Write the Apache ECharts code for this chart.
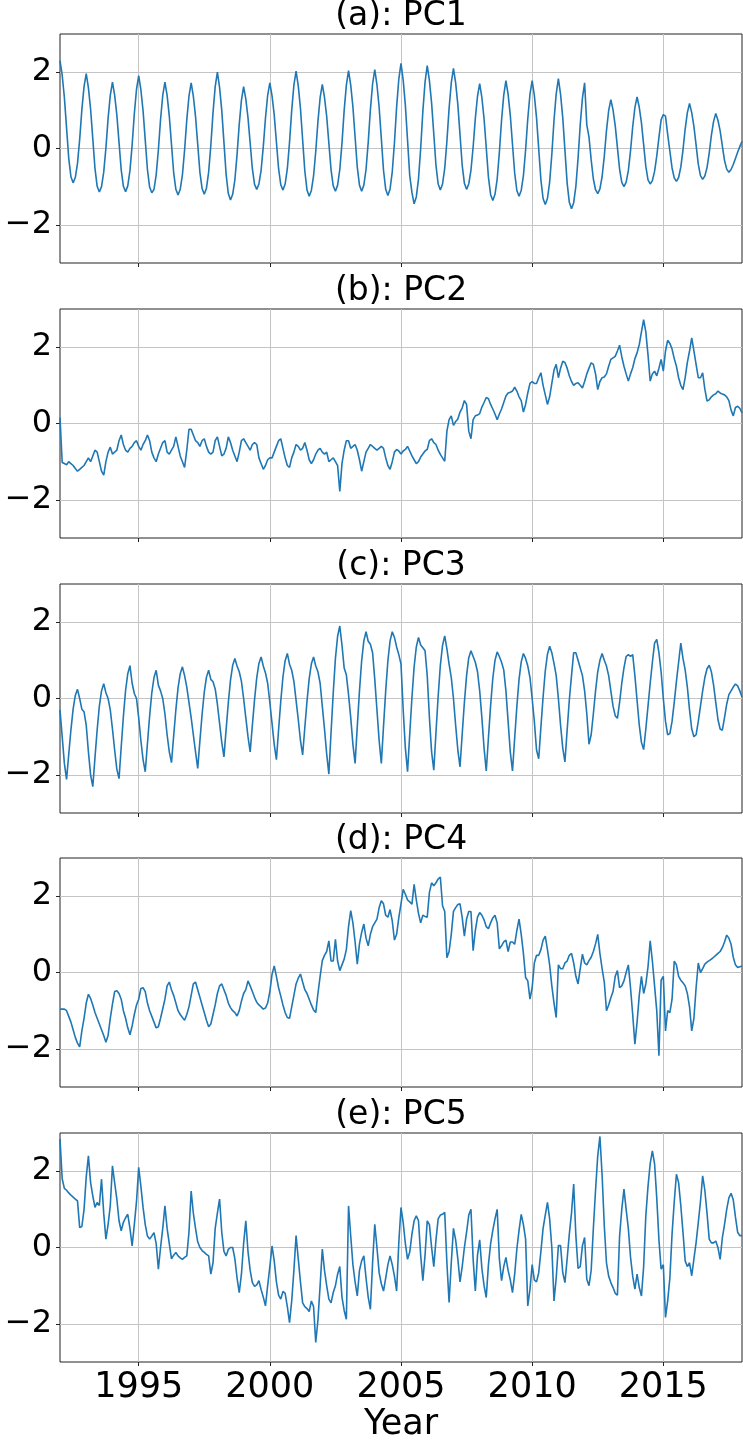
<!DOCTYPE html>
<html><head><meta charset="utf-8">
<script src="https://cdn.jsdelivr.net/npm/echarts@6/dist/echarts.min.js"></script>
<style>html,body{margin:0;padding:0;background:#fff}#c{width:743px;height:1440px}</style>
</head><body><div id="c"></div>
<script>
const startYear = 1992;
const stepsPerYear = 12;
const xTicks = [1995, 2000, 2005, 2010, 2015];
const yTicks = [-2, 0, 2];
const titles = ['(a): PC1', '(b): PC2', '(c): PC3', '(d): PC4', '(e): PC5'];
const xName = 'Year';

const pc1 = [
2.3,1.92,1.34,0.54,-0.26,-0.74,-0.9,-0.76,-0.39,0.24,1.02,1.62,
1.96,1.59,1.03,0.26,-0.52,-0.99,-1.14,-1.0,-0.62,0.01,0.79,1.39,
1.74,1.40,0.88,0.16,-0.56,-0.99,-1.13,-0.98,-0.58,0.09,0.91,1.55,
1.91,1.54,0.99,0.22,-0.55,-1.01,-1.16,-1.07,-0.69,-0.04,0.76,1.39,
1.74,1.39,0.85,0.11,-0.63,-1.07,-1.22,-1.07,-0.69,-0.04,0.75,1.37,
1.72,1.37,0.84,0.11,-0.62,-1.05,-1.2,-1.04,-0.62,0.08,0.94,1.62,
2.0,1.60,1.0,0.16,-0.68,-1.18,-1.35,-1.2,-0.82,-0.16,0.64,1.26,
1.62,1.30,0.81,0.14,-0.53,-0.94,-1.07,-0.93,-0.57,0.05,0.80,1.39,
1.72,1.38,0.88,0.17,-0.53,-0.95,-1.09,-0.93,-0.53,0.16,1.0,1.66,
2.03,1.64,1.05,0.23,-0.59,-1.09,-1.25,-1.10,-0.72,-0.08,0.71,1.33,
1.68,1.34,0.84,0.14,-0.56,-0.98,-1.12,-0.96,-0.55,0.14,1.0,1.66,
2.04,1.66,1.09,0.30,-0.49,-0.96,-1.12,-0.96,-0.55,0.16,1.02,1.69,
2.07,1.67,1.08,0.26,-0.57,-1.07,-1.23,-1.06,-0.61,0.15,1.09,1.82,
2.23,1.79,1.13,0.21,-0.71,-1.15,-1.45,-1.27,-0.80,0.0,0.98,1.74,
2.17,1.78,1.19,0.38,-0.44,-0.93,-1.09,-0.93,-0.52,0.19,1.05,1.72,
2.1,1.72,1.15,0.36,-0.44,-0.91,-1.07,-0.93,-0.57,0.04,0.79,1.37,
1.7,1.33,0.78,0.02,-0.75,-1.21,-1.36,-1.20,-0.80,-0.10,0.74,1.40,
1.78,1.42,0.87,0.11,-0.64,-1.10,-1.25,-1.10,-0.71,-0.04,0.78,1.42,
1.78,1.39,0.81,-0.01,-0.82,-1.31,-1.47,-1.31,-0.88,-0.15,0.74,1.43,
1.83,1.42,0.81,-0.05,-0.90,-1.41,-1.58,-1.42,-0.99,-0.26,0.63,1.32,
1.72,0.62,0.3,-0.3,-0.8,-1.08,-1.18,-1.06,-0.74,-0.20,0.47,0.99,
1.28,1.01,0.60,0.03,-0.54,-0.89,-1.0,-0.88,-0.58,-0.06,0.57,1.07,
1.35,1.08,0.67,0.10,-0.47,-0.82,-0.93,-0.84,-0.60,-0.20,0.29,0.75,
0.89,0.85,0.37,-0.07,-0.51,-0.77,-0.86,-0.76,-0.49,-0.04,0.51,0.94,
1.18,0.94,0.58,0.09,-0.41,-0.71,-0.81,-0.72,-0.50,-0.12,0.35,0.71,
0.92,0.74,0.46,0.07,-0.31,-0.54,-0.62,-0.55,-0.42,-0.26,-0.10,0.05,
0.19];

const pc2 = [
0.15,-1.02,-1.05,-1.08,-1.0,-1.05,-1.1,-1.18,-1.25,-1.2,-1.15,-1.1,
-1.0,-0.9,-1.0,-0.85,-0.7,-0.75,-1.0,-1.25,-1.35,-1.0,-0.75,-0.62,
-0.8,-0.75,-0.7,-0.45,-0.3,-0.55,-0.7,-0.75,-0.65,-0.6,-0.5,-0.45,
-0.6,-0.7,-0.55,-0.45,-0.3,-0.45,-0.75,-0.9,-1.0,-0.8,-0.65,-0.5,
-0.45,-0.75,-0.8,-0.7,-0.6,-0.35,-0.6,-0.85,-1.0,-1.15,-0.7,-0.15,
-0.15,-0.3,-0.45,-0.5,-0.6,-0.45,-0.4,-0.6,-0.75,-0.8,-0.75,-0.45,
-0.35,-0.6,-0.85,-0.8,-0.65,-0.35,-0.5,-0.7,-0.85,-1.0,-0.75,-0.45,
-0.4,-0.5,-0.6,-0.7,-0.55,-0.5,-0.55,-0.9,-1.05,-1.2,-1.1,-0.95,
-0.9,-0.9,-0.75,-0.6,-0.45,-0.4,-0.65,-0.9,-1.1,-1.15,-0.9,-0.75,
-0.55,-0.6,-0.7,-0.65,-0.5,-0.7,-0.95,-1.05,-0.95,-0.8,-0.7,-0.65,
-0.75,-0.8,-0.75,-1.0,-0.95,-0.9,-1.0,-1.1,-1.78,-1.05,-0.7,-0.45,
-0.45,-0.65,-0.6,-0.55,-0.7,-0.95,-1.25,-1.0,-0.75,-0.65,-0.55,-0.6,
-0.65,-0.7,-0.65,-0.6,-0.65,-0.9,-1.1,-1.2,-1.0,-0.75,-0.68,-0.72,
-0.8,-0.72,-0.68,-0.6,-0.72,-0.85,-0.95,-1.05,-1.0,-0.88,-0.8,-0.72,
-0.68,-0.45,-0.4,-0.5,-0.55,-0.7,-0.81,-0.9,-0.99,-0.2,0.1,0.2,
-0.05,0.05,0.12,0.3,0.41,0.6,0.5,-0.2,-0.4,0.1,0.2,0.22,
0.26,0.43,0.55,0.68,0.65,0.5,0.38,0.25,0.1,0.25,0.38,0.55,
0.72,0.8,0.82,0.85,0.95,0.85,0.7,0.6,0.3,0.5,0.8,1.05,
1.1,1.05,1.05,1.2,1.33,1.0,0.75,0.5,0.7,1.05,1.4,1.55,
1.2,1.45,1.63,1.6,1.45,1.25,1.1,1.0,1.05,1.07,1.0,0.93,
1.1,1.3,1.45,1.59,1.55,1.3,0.89,1.1,1.2,1.22,1.3,1.5,
1.68,1.72,1.76,1.9,2.05,1.75,1.5,1.3,1.11,1.3,1.46,1.7,
1.85,2.07,2.4,2.72,2.4,1.8,1.11,1.3,1.37,1.25,1.45,1.68,
1.37,1.9,2.18,2.1,1.95,1.7,1.5,1.2,1.0,0.89,1.2,1.6,
1.9,2.24,1.9,1.55,1.2,1.2,1.33,0.9,0.59,0.62,0.7,0.75,
0.78,0.85,0.8,0.77,0.75,0.7,0.6,0.35,0.2,0.42,0.45,0.4,
0.28];

const pc3 = [
-0.3,-1.0,-1.7,-2.12,-1.46,-0.82,-0.28,0.08,0.24,0.0,-0.28,-0.35,
-0.7,-1.4,-2.0,-2.31,-1.55,-0.82,-0.2,0.2,0.39,0.15,0.0,-0.3,
-0.8,-1.35,-1.85,-2.1,-1.27,-0.47,0.21,0.65,0.86,0.4,0.13,0.0,
-0.5,-1.1,-1.6,-1.92,-1.18,-0.46,0.15,0.55,0.74,0.35,0.2,0.0,
-0.4,-0.95,-1.4,-1.68,-0.98,-0.3,0.28,0.65,0.83,0.6,0.3,-0.1,
-0.5,-0.95,-1.4,-1.83,-1.11,-0.42,0.17,0.56,0.74,0.5,0.44,0.25,
-0.15,-0.65,-1.15,-1.53,-0.81,-0.11,0.48,0.87,1.05,0.85,0.7,0.45,
0.0,-0.5,-1.0,-1.4,-0.7,-0.03,0.54,0.92,1.09,0.85,0.67,0.4,
-0.1,-0.65,-1.2,-1.6,-0.82,-0.07,0.57,0.99,1.18,0.9,0.74,0.45,
-0.05,-0.55,-1.1,-1.48,-0.76,-0.07,0.52,0.91,1.09,0.85,0.7,0.4,
-0.2,-0.8,-1.45,-1.98,-0.89,0.15,1.05,1.63,1.9,1.4,0.8,0.62,
0.1,-0.5,-1.2,-1.7,-0.73,0.2,0.99,1.51,1.75,1.5,1.42,1.2,
0.5,-0.3,-1.1,-1.7,-0.73,0.2,0.99,1.51,1.75,1.6,1.35,1.15,
0.9,-0.3,-1.3,-1.92,-0.93,0.02,0.83,1.35,1.6,1.4,1.33,1.25,
0.6,-0.5,-1.4,-1.88,-0.89,0.06,0.87,1.39,1.64,1.3,0.9,0.55,
0.0,-0.7,-1.35,-1.79,-0.93,-0.1,0.6,1.07,1.25,1.1,0.95,0.7,
0.2,-0.5,-1.3,-1.9,-1.03,-0.18,0.53,1.0,1.22,1.1,0.95,0.75,
0.2,-0.6,-1.4,-1.9,-1.04,-0.21,0.5,0.96,1.18,1.05,0.85,0.55,
0.0,-0.6,-1.35,-1.58,-0.75,0.04,0.72,1.16,1.37,1.2,0.92,0.6,
0.0,-0.7,-1.3,-1.66,-0.84,-0.04,0.6,1.2,1.2,1.0,0.8,0.6,
0.2,-0.4,-1.2,-0.95,-0.4,0.2,0.7,1.0,1.18,1.0,0.85,0.6,
0.2,-0.2,-0.45,-0.52,-0.1,0.4,0.8,1.1,1.15,1.1,1.15,0.6,
-0.05,-0.7,-1.15,-1.34,-0.8,-0.2,0.4,0.95,1.45,1.55,1.2,0.7,
0.0,-0.6,-0.95,-0.92,-0.6,-0.1,0.45,0.95,1.45,1.05,0.75,0.3,
-0.3,-0.8,-1.0,-0.95,-0.6,-0.2,0.2,0.55,0.78,0.87,0.7,0.35,
-0.1,-0.55,-0.8,-0.83,-0.5,-0.15,0.1,0.2,0.3,0.38,0.33,0.2,
0.04];

const pc4 = [
-0.96,-0.96,-0.96,-1.0,-1.15,-1.3,-1.5,-1.7,-1.85,-1.95,-1.53,-1.2,
-0.8,-0.57,-0.68,-0.85,-1.05,-1.2,-1.35,-1.5,-1.65,-1.83,-1.65,-1.2,
-0.83,-0.5,-0.48,-0.55,-0.7,-1.0,-1.2,-1.45,-1.63,-1.4,-1.1,-0.85,
-0.7,-0.42,-0.4,-0.5,-0.8,-1.0,-1.15,-1.3,-1.45,-1.42,-1.2,-0.95,
-0.7,-0.35,-0.25,-0.45,-0.6,-0.8,-1.0,-1.1,-1.18,-1.25,-1.1,-0.9,
-0.6,-0.3,-0.25,-0.45,-0.65,-0.85,-1.05,-1.25,-1.42,-1.35,-1.1,-0.85,
-0.55,-0.35,-0.3,-0.45,-0.6,-0.8,-0.92,-1.0,-1.05,-1.14,-1.0,-0.75,
-0.55,-0.45,-0.22,-0.35,-0.5,-0.65,-0.78,-0.85,-0.9,-0.96,-0.93,-0.8,
-0.5,-0.05,0.17,-0.1,-0.4,-0.62,-0.85,-1.05,-1.18,-1.2,-0.9,-0.6,
-0.3,-0.15,-0.04,-0.25,-0.45,-0.55,-0.7,-0.85,-0.98,-1.05,-0.55,-0.1,
0.31,0.45,0.55,0.83,0.3,0.3,0.87,0.3,0.05,0.2,0.35,0.6,
1.2,1.62,1.3,0.8,0.22,0.75,1.05,1.27,0.9,0.7,1.0,1.2,
1.3,1.4,1.7,1.88,1.8,1.5,1.45,1.65,1.35,0.85,1.0,1.44,
1.8,2.18,2.05,1.9,1.85,1.79,2.31,1.9,1.55,1.3,1.5,1.47,
1.45,2.1,2.35,2.27,2.35,2.45,2.5,1.75,1.6,0.39,0.55,1.0,
1.6,1.7,1.78,1.8,1.44,0.95,1.4,1.6,1.6,0.57,1.1,1.45,
1.57,1.5,1.38,1.2,1.15,1.3,1.43,1.5,1.3,0.62,0.7,0.8,
0.85,0.55,0.8,0.8,0.74,1.1,1.4,1.0,0.5,-0.13,-0.22,-0.7,
-0.4,0.25,0.45,0.45,0.6,0.85,0.95,0.6,0.2,-0.35,-0.8,-1.18,
0.2,0.1,0.1,0.25,0.3,0.45,0.5,0.25,-0.1,-0.3,0.1,0.48,
0.25,0.2,0.31,0.4,0.55,0.75,1.0,0.5,0.1,-0.25,-1.0,-0.85,
-0.66,-0.5,-0.1,0.05,-0.4,-0.35,-0.22,0.0,0.2,-0.4,-1.1,-1.88,
-1.3,-0.6,-0.1,-0.55,-0.3,0.15,0.83,0.3,-0.35,-1.0,-2.18,-0.2,
-0.1,-1.53,-1.0,-1.05,-0.7,0.3,0.2,-0.1,-0.2,-0.27,-0.35,-0.55,
-0.9,-1.53,-1.2,-0.4,0.25,0.0,0.1,0.22,0.27,0.31,0.35,0.4,
0.45,0.5,0.55,0.65,0.8,0.98,0.9,0.74,0.4,0.2,0.13,0.15,
0.17];

const pc5 = [
2.84,1.8,1.55,1.5,1.43,1.37,1.32,1.27,1.22,0.52,0.55,1.0,
1.85,2.4,1.7,1.35,1.05,1.18,1.1,1.79,0.9,0.22,0.6,1.1,
2.14,1.7,1.27,0.7,0.44,0.66,0.78,0.87,0.5,0.04,0.6,1.2,
2.1,1.6,1.05,0.6,0.3,0.22,0.3,0.39,0.1,-0.57,0.0,0.5,
1.09,0.5,0.1,-0.3,-0.2,-0.13,-0.22,-0.27,-0.31,-0.26,-0.22,0.4,
1.48,0.9,0.5,0.15,0.0,-0.08,-0.13,-0.18,-0.22,-0.7,-0.4,0.5,
0.9,1.27,0.4,-0.1,-0.22,-0.05,0.0,0.0,-0.3,-0.8,-1.18,-0.7,
0.1,0.7,-0.1,-0.6,-0.92,-1.02,-0.98,-0.87,-1.1,-1.3,-1.53,-1.0,
-0.5,0.04,-0.35,-0.9,-1.25,-1.35,-1.15,-1.2,-1.55,-1.97,-1.4,-0.6,
0.31,-0.3,-0.9,-1.45,-1.55,-1.6,-1.68,-1.4,-1.55,-2.49,-1.9,-1.0,
-0.04,-0.6,-1.0,-1.35,-1.45,-1.18,-1.0,-0.7,-0.5,-1.3,-1.65,-1.88,
1.09,0.3,-0.45,-0.9,-1.27,-0.6,-0.35,-0.22,-0.8,-1.3,-1.62,-0.4,
0.61,0.0,-0.66,-0.95,-1.14,-0.8,-0.45,-0.22,-0.45,-0.75,-1.14,0.13,
1.05,0.65,0.1,-0.31,-0.12,0.35,0.7,0.83,0.7,-0.2,-0.87,-0.2,
0.7,0.6,0.0,-0.5,0.2,0.75,0.85,0.87,0.92,-0.4,-1.44,-0.4,
0.5,0.2,-0.3,-0.9,-0.5,0.0,0.4,0.85,1.0,-0.31,-1.14,-0.2,
0.2,-0.55,-1.0,-1.31,-0.45,0.1,0.45,0.75,1.0,-0.3,-0.87,-0.5,
-0.26,-0.6,-0.85,-1.18,-0.7,-0.04,0.45,0.87,0.6,0.22,-1.53,-1.1,
-0.45,-0.85,-0.9,-0.66,-0.1,0.5,0.85,1.18,0.75,0.0,-1.4,-0.8,
0.05,0.05,-0.66,-0.92,-0.3,0.35,0.9,1.66,0.31,-0.55,-0.5,0.05,
0.26,-0.83,-1.0,-0.6,0.5,1.5,2.4,2.91,1.9,0.57,-0.4,-0.75,
-0.92,-1.05,-1.2,-1.25,0.3,1.0,1.53,1.0,0.5,-0.25,-0.75,-1.09,
-0.7,-1.05,-1.27,-0.5,0.83,1.6,2.2,2.53,2.2,1.3,0.2,-0.57,
-0.45,-1.83,-1.4,-0.8,0.35,1.2,1.92,1.7,1.1,0.4,-0.35,-0.5,
-0.4,-0.74,-0.3,0.13,0.65,1.2,1.88,1.5,0.9,0.22,0.12,0.12,
0.17,0.0,-0.31,0.25,0.6,1.0,1.3,1.42,1.25,0.8,0.4,0.31,
0.31];

const allSeries = [pc1, pc2, pc3, pc4, pc5];

const FONT = 'DejaVu Sans';
const lineColor = '#1f77b4';
const gridColor = '#c4c4c4';
const spineColor = '#222';
const tops = [34, 309, 584, 858, 1133];
const plotLeft = 60, plotWidth = 682, plotHeight = 229;

const toPairs = arr => arr.map((v, i) => [startYear + i / stepsPerYear, v]);
const minusFmt = v => (v < 0 ? '\u2212' + Math.abs(v) : String(v));
const yearFmt = v => String(v);

const option = {
  animation: false,
  backgroundColor: '#fff',
  grid: tops.map(top => ({
    left: plotLeft, top: top, width: plotWidth, height: plotHeight,
    show: true, borderColor: spineColor, borderWidth: 1,
    backgroundColor: 'rgba(0,0,0,0)', containLabel: false, outerBoundsMode: 'none'
  })),
  xAxis: tops.map((_, i) => ({
    type: 'value', gridIndex: i, min: startYear, max: 2018,
    axisLine: { show: false, onZero: false },
    axisTick: { show: true, customValues: xTicks, length: 4, lineStyle: { color: spineColor, width: 1 } },
    axisLabel: { show: i === 4, customValues: xTicks, margin: 8, fontFamily: FONT, fontSize: 35, color: '#000', formatter: yearFmt },
    splitLine: { show: true, lineStyle: { color: gridColor, width: 1 } },
    name: i === 4 ? xName : '',
    nameLocation: 'middle', nameGap: 45,
    nameTextStyle: { fontFamily: FONT, fontSize: 35, color: '#000' }
  })),
  yAxis: tops.map((_, i) => ({
    type: 'value', gridIndex: i, min: -3, max: 3,
    axisLine: { show: false, onZero: false },
    axisTick: { show: true, customValues: yTicks, length: 4, lineStyle: { color: spineColor, width: 1 } },
    axisLabel: { customValues: yTicks, margin: 8, fontFamily: FONT, fontSize: 32, color: '#000', formatter: minusFmt },
    splitLine: { show: true, lineStyle: { color: gridColor, width: 1 } }
  })),
  graphic: titles.map((t, i) => ({
    type: 'text', x: plotLeft + plotWidth / 2, y: tops[i] - 34,
    style: { text: t, font: '33px "DejaVu Sans"', fill: '#000', align: 'center', verticalAlign: 'top' }
  })),
  series: allSeries.map((arr, i) => ({
    type: 'line', xAxisIndex: i, yAxisIndex: i,
    data: toPairs(arr), showSymbol: false, symbol: 'none',
    lineStyle: { color: lineColor, width: 1.6 }, clip: true
  }))
};

const chart = echarts.init(document.getElementById('c'), null, { renderer: 'canvas', width: 743, height: 1440 });
chart.setOption(option);
</script>
</body></html>
